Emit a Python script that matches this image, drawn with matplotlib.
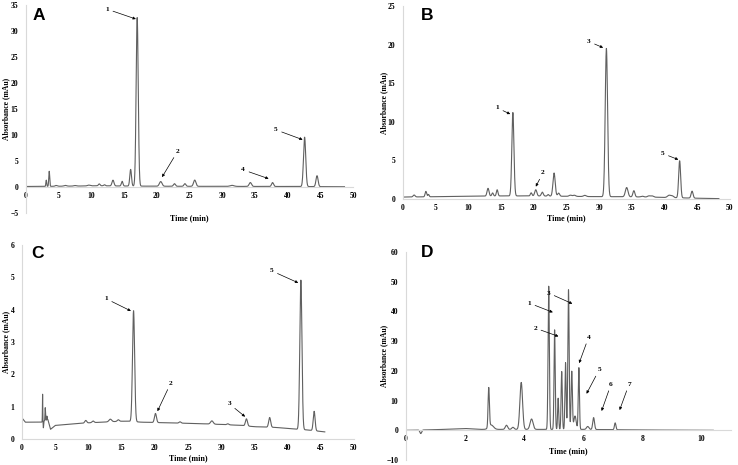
import numpy as np
import matplotlib
matplotlib.use("Agg")
import matplotlib.pyplot as plt

# ---------------- data ----------------
# Panel A
A_base_t = [0, 3, 5, 9, 11, 14, 20, 30, 40, 48.7]
A_base_y = [0.1, 0.12, 0.15, 0.2, 0.25, 0.2, 0.15, 0.12, 0.1, 0.05]
A_peak_t = [3.1, 3.55, 4.6, 6.0, 7.5, 9.6, 11.2, 12.0, 13.3, 14.7, 16.0, 17.0,
            20.6, 22.7, 24.3, 25.8, 31.5, 34.3, 37.7, 42.6, 44.5]
A_peak_h = [1.2, 2.9, 0.15, 0.15, 0.1, 0.15, 0.35, 0.2, 1.1, 0.9, 3.2, 32.4,
            0.9, 0.5, 0.5, 1.2, 0.2, 0.75, 0.75, 9.5, 2.1]
A_peak_w = [0.06, 0.07, 0.15, 0.2, 0.2, 0.2, 0.12, 0.12, 0.15, 0.12, 0.13, 0.16,
            0.2, 0.15, 0.15, 0.18, 0.3, 0.18, 0.15, 0.17, 0.16]
A_labels = ["1", "2", "4", "5"]
A_label_xy = [(12.4, 34.2), (23.2, 6.9), (33.2, 3.3), (38.2, 11.0)]
A_arrow_xy = [(16.8, 32.3), (20.8, 1.9), (37.1, 1.6), (42.3, 9.1)]

# Panel B
B_base_t = [0, 5, 10, 15, 20, 25, 30, 33, 38, 40, 45, 48.3]
B_base_y = [0.25, 0.3, 0.35, 0.4, 0.4, 0.35, 0.3, 0.3, 0.25, 0.2, 0.1, 0.05]
B_peak_t = [1.7, 3.5, 3.9, 13.0, 13.7, 14.4, 16.8, 19.6, 20.3, 21.3, 22.2, 23.1,
            23.8, 25.6, 26.2, 27.8, 31.1, 34.2, 35.3, 36.6, 37.6, 38.1, 40.7,
            41.2, 42.3, 44.2]
B_peak_h = [0.25, 0.7, 0.3, 1.0, 0.4, 0.8, 10.8, 0.4, 0.8, 0.5, 0.2, 3.0,
            0.4, 0.15, 0.15, 0.15, 19.2, 1.2, 0.8, 0.1, 0.15, 0.15, 0.3,
            0.2, 4.8, 0.9]
B_peak_w = [0.15, 0.12, 0.1, 0.15, 0.12, 0.12, 0.16, 0.12, 0.16, 0.15, 0.12, 0.17,
            0.15, 0.2, 0.2, 0.2, 0.18, 0.2, 0.15, 0.2, 0.2, 0.2, 0.25,
            0.2, 0.15, 0.15]
B_labels = ["1", "2", "3", "5"]
B_label_xy = [(14.4, 11.8), (21.4, 3.4), (28.4, 20.4), (39.7, 5.9)]
B_arrow_xy = [(16.4, 11.0), (20.3, 1.6), (30.6, 19.6), (42.1, 5.1)]

# Panel C
C_base_t = [0, 0.5, 2.9, 3.9, 4.3, 5, 8, 10, 15, 16, 18, 22, 26, 30, 33, 35, 38,
            40, 41.5, 43, 45.6]
C_base_y = [0.65, 0.52, 0.52, 0.6, 0.3, 0.42, 0.47, 0.5, 0.55, 0.55, 0.52, 0.5,
            0.48, 0.45, 0.42, 0.38, 0.36, 0.33, 0.3, 0.28, 0.22]
C_peak_t = [3.1, 3.22, 3.5, 3.75, 9.6, 10.7, 13.3, 14.5, 16.8, 20.1, 23.8, 28.6,
            31.0, 33.8, 37.3, 42.0, 44.0]
C_peak_h = [0.85, -0.2, 0.4, 0.12, 0.08, 0.05, 0.08, 0.05, 3.43, 0.28, 0.04, 0.1,
            0.03, 0.22, 0.3, 4.62, 0.6]
C_peak_w = [0.025, 0.03, 0.04, 0.04, 0.15, 0.15, 0.2, 0.15, 0.16, 0.15, 0.15, 0.2,
            0.15, 0.15, 0.15, 0.16, 0.14]
C_labels = ["1", "2", "3", "5"]
C_label_xy = [(12.65, 4.34), (22.4, 1.73), (31.2, 1.09), (37.6, 5.2)]
C_arrow_xy = [(16.4, 3.96), (20.4, 0.86), (33.6, 0.69), (41.6, 4.83)]

# Panel D
D_base_t = [0, 1, 2, 2.5, 3, 4, 6, 8, 10.4]
D_base_y = [0, 0.2, 0.6, 0.3, 0.3, 0.3, 0.3, 0.1, 0.0]
D_peak_t = [0.5, 2.8, 2.88, 3.4, 3.62, 3.9, 4.25, 4.83, 5.03, 5.15, 5.27, 5.4,
            5.5, 5.61, 5.72, 5.85, 6.15, 6.35, 7.08]
D_peak_h = [-1.2, 13.2, 1.5, 1.4, 0.7, 15.8, 3.5, 48.2, 33.5, 10.5, 19.5, 22.5,
            47.0, 19.5, 4.5, 20.8, 1.0, 4.0, 2.3]
D_peak_w = [0.03, 0.022, 0.08, 0.04, 0.04, 0.045, 0.05, 0.022, 0.02, 0.018, 0.02,
            0.02, 0.022, 0.022, 0.04, 0.02, 0.04, 0.03, 0.025]
D_labels = ["1", "2", "3", "4", "5", "6", "7"]
D_label_xy = [(4.17, 42.8), (4.37, 34.4), (4.82, 46.2), (6.18, 31.3),
              (6.54, 20.4), (6.94, 15.5), (7.55, 15.5)]
D_arrow_xy = [(4.97, 39.7), (5.16, 31.6), (5.63, 42.6), (5.86, 22.6),
              (6.11, 12.3), (6.62, 6.5), (7.23, 6.8)]

# ---------------- drawing ----------------
W, H = 738, 465
fig = plt.figure(figsize=(W / 100, H / 100), dpi=100)
SERIF = "Liberation Serif"


def px_axes(left, right, top, bottom):
    return fig.add_axes([left / W, 1 - bottom / H, (right - left) / W, (bottom - top) / H])


def trace(bt, by, pt, ph, pw, n=4000):
    t = np.linspace(bt[0], bt[-1], n)
    y = np.interp(t, bt, by)
    for c, h, s in zip(pt, ph, pw):
        y = y + h * np.exp(-0.5 * ((t - c) / s) ** 2)
    return t, y


def panel(rect, xlim, ylim, xticks, yticks, bt, by, pt, ph, pw,
          labels, label_xy, arrow_xy, letter, letter_xy, ylab_x, xlab_y):
    ax = px_axes(*rect)
    t, y = trace(bt, by, pt, ph, pw)
    ax.plot(t, y, color="#606060", lw=0.8)
    ax.set_xlim(*xlim)
    ax.set_ylim(*ylim)
    ax.set_xticks(xticks)
    ax.set_yticks(yticks)
    ax.spines["top"].set_visible(False)
    ax.spines["right"].set_visible(False)
    ax.spines["bottom"].set_position(("data", 0))
    for s in ("left", "bottom"):
        ax.spines[s].set_color("#d9d9d9")
        ax.spines[s].set_linewidth(0.8)
    ax.tick_params(axis="both", length=0, labelsize=5.5)
    ax.tick_params(axis="x", pad=3.5)
    ax.tick_params(axis="y", pad=5.5)
    for lab in ax.get_xticklabels() + ax.get_yticklabels():
        lab.set_fontfamily(SERIF)
        lab.set_fontweight("bold")
    ax.patch.set_alpha(0)
    ax.text(0.5, xlab_y, "Time (min)", transform=ax.transAxes, ha="center",
            va="center", fontsize=5.8, fontweight="bold", family=SERIF)
    ax.text(ylab_x, 0.5, "Absorbance (mAu)", transform=ax.transAxes, ha="center",
            va="center", rotation=90, fontsize=5.5, fontweight="bold", family=SERIF)
    for lab, lxy, axy in zip(labels, label_xy, arrow_xy):
        ax.annotate(lab, xy=axy, xytext=lxy, ha="center", va="center",
                    fontsize=5.3, fontweight="bold", family=SERIF,
                    arrowprops=dict(arrowstyle="-|>", lw=0.5, color="black",
                                    mutation_scale=4, shrinkA=1, shrinkB=0))
    fig.text(letter_xy[0] / W, 1 - letter_xy[1] / H, letter, ha="center", va="center",
             fontsize=12.5, fontweight="bold", family="Liberation Sans")
    return ax


panel((26, 353, 5, 213), (0, 50), (-5, 35), range(0, 51, 5), range(-5, 36, 5),
      A_base_t, A_base_y, A_peak_t, A_peak_h, A_peak_w,
      A_labels, A_label_xy, A_arrow_xy, "A", (39, 16), -0.061, -0.024)
panel((403, 730, 6, 199), (0, 50), (0, 25), range(0, 51, 5), range(0, 26, 5),
      B_base_t, B_base_y, B_peak_t, B_peak_h, B_peak_w,
      B_labels, B_label_xy, B_arrow_xy, "B", (427.5, 15), -0.058, -0.098)
panel((22, 354, 245, 439), (0, 50), (0, 6), range(0, 51, 5), range(0, 7, 1),
      C_base_t, C_base_y, C_peak_t, C_peak_h, C_peak_w,
      C_labels, C_label_xy, C_arrow_xy, "C", (38, 253), -0.048, -0.098)
panel((406, 731, 252, 460), (0, 11), (-10, 60), range(0, 11, 2), range(-10, 61, 10),
      D_base_t, D_base_y, D_peak_t, D_peak_h, D_peak_w,
      D_labels, D_label_xy, D_arrow_xy, "D", (427.5, 252), -0.068, 0.043)

fig.savefig("out.png", dpi=100)
